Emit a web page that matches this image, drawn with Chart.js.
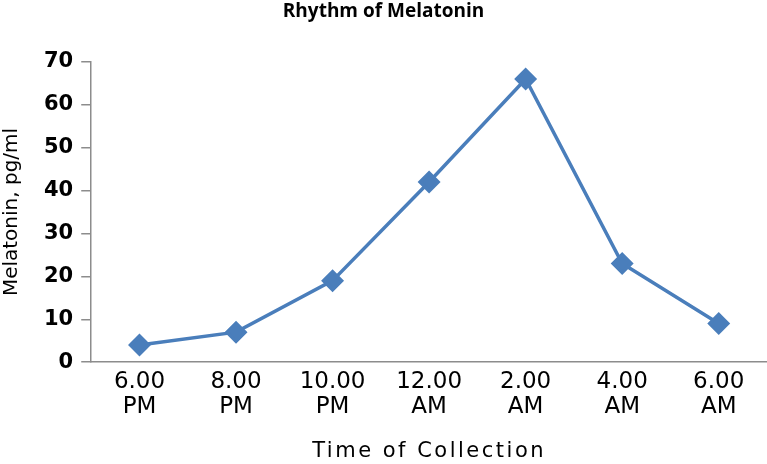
<!DOCTYPE html>
<html>
<head>
<meta charset="utf-8">
<script src="https://cdn.jsdelivr.net/npm/chart.js@4/dist/chart.umd.min.js"></script>
<style>
  html, body { margin: 0; padding: 0; background: #fff; }
  #wrap { width: 767px; height: 464px; }
</style>
</head>
<body>
<div id="wrap"><canvas id="c" width="767" height="464"></canvas></div>
<script>
const times = [['6.00', 'PM'], ['8.00', 'PM'], ['10.00', 'PM'], ['12.00', 'AM'], ['2.00', 'AM'], ['4.00', 'AM'], ['6.00', 'AM']];
const melatonin = [4, 7, 19, 42, 66, 23, 9];
const yTicks = [0, 10, 20, 30, 40, 50, 60, 70];

const blue = '#4a7ebb';
const axisGrey = '#8c8c8c';

// the axis title in the picture is set wide, so space its letters out
const spacedXTitle = {
  id: 'spacedXTitle',
  beforeDraw(chart) {
    const sc = chart.scales.x;
    if (!sc || sc._spaced) return;
    const orig = sc.drawTitle.bind(sc);
    sc.drawTitle = function() {
      const ctx = this.ctx;
      const prev = ctx.letterSpacing;
      ctx.letterSpacing = '2.5px';
      orig();
      ctx.letterSpacing = prev;
    };
    sc._spaced = true;
  }
};

new Chart(document.getElementById('c'), {
  type: 'line',
  data: {
    labels: times,
    datasets: [{
      label: 'Melatonin',
      data: melatonin,
      borderColor: blue,
      backgroundColor: blue,
      borderWidth: 3.5,
      pointStyle: 'rectRot',
      pointRadius: 9,
      pointHoverRadius: 9,
      tension: 0,
      fill: false
    }]
  },
  plugins: [spacedXTitle],
  options: {
    responsive: false,
    animation: false,
    layout: { autoPadding: false, padding: 0 },
    plugins: {
      legend: { display: false },
      tooltip: { enabled: false },
      title: {
        display: true,
        text: 'Rhythm of Melatonin',
        color: '#000',
        font: { family: 'Open Sans', size: 19, weight: 'bold' },
        padding: { top: 0, bottom: 39 }
      }
    },
    scales: {
      x: {
        offset: true,
        grid: { display: false, drawTicks: false },
        border: { color: axisGrey, width: 1.5 },
        ticks: {
          color: '#000',
          font: { family: 'DejaVu Sans', size: 23, lineHeight: 1.1 },
          padding: 7,
          maxRotation: 0
        },
        title: {
          display: true,
          text: 'Time of Collection',
          color: '#000',
          font: { family: 'DejaVu Sans', size: 21 },
          padding: { top: 12, bottom: 0 }
        }
      },
      y: {
        min: 0,
        max: 70,
        afterBuildTicks: axis => { axis.ticks = yTicks.map(v => ({ value: v })); },
        grid: { drawOnChartArea: false, drawTicks: true, tickLength: 10, color: axisGrey, lineWidth: 1.5 },
        border: { color: axisGrey, width: 1.5 },
        ticks: {
          color: '#000',
          font: { family: 'DejaVu Sans', size: 21, weight: 'bold' },
          padding: 8
        },
        title: {
          display: true,
          text: 'Melatonin, pg/ml',
          color: '#000',
          font: { family: 'DejaVu Sans', size: 20 },
          padding: { top: 0, bottom: 12 }
        }
      }
    }
  }
});
</script>
</body>
</html>
